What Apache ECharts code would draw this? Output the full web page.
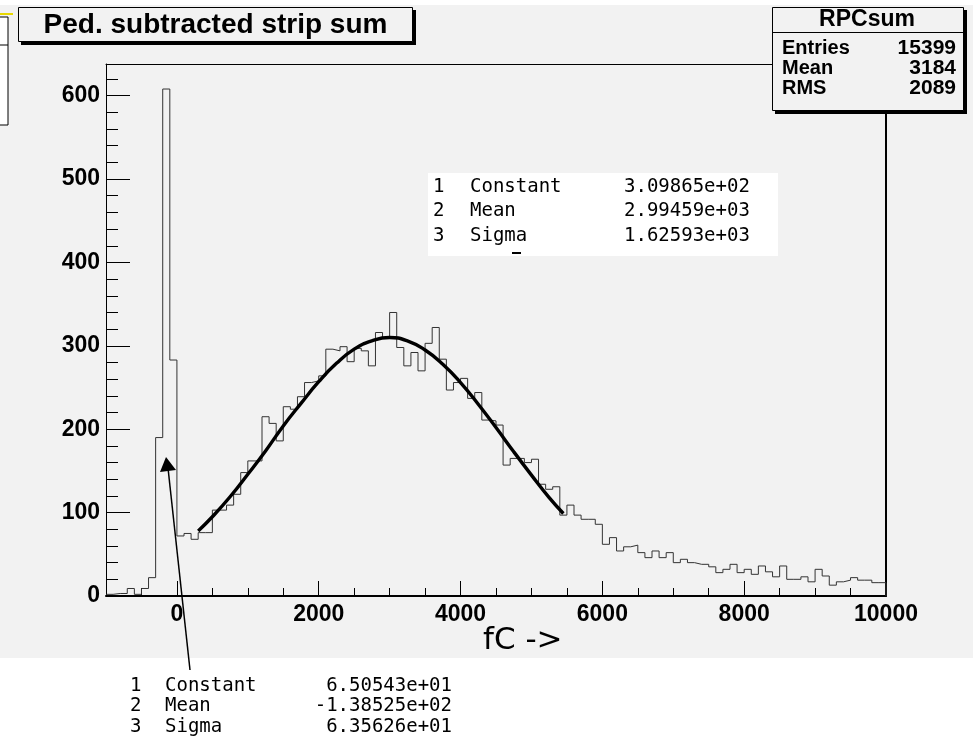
<!DOCTYPE html>
<html><head><meta charset="utf-8">
<script src="https://cdn.jsdelivr.net/npm/echarts@6/dist/echarts.min.js"></script>
<style>html,body{margin:0;padding:0;background:#fff}#c{width:973px;height:748px}</style>
</head><body><div id="c"></div>
<script>
// ---- data ----
const binStart = -1000;
const binWidth = 100;
const counts = [2,3,3,9,2,9,22,190,608,283,
  72,75,68,76,76,103,103,109,122,148,
  162,162,215,207,186,227,224,239,256,258,
  264,296,294,299,281,297,294,276,316,310,
  340,298,276,292,270,303,322,284,247,256,
  261,237,244,211,210,205,157,165,165,160,
  164,134,128,131,97,109,97,92,92,86,
  62,70,54,59,61,52,46,54,46,52,
  40,44,40,38,38,35,28,32,38,28,
  32,26,36,29,23,36,20,20,23,17,
  32,24,13,17,19,22,19,19,16,16];
const fitX = [300,500,750,1000,1250,1500,1750,2000,2250,2500,2750,3000,3250,3500,3750,4000,4250,4500,4750,5000,5250,5450];
const fitY = [78,95,119,146,174,204,231,257,279,296,306,310,306,295,278,256,230,202,173,145,118,99];
const xMajorTicks = [0,2000,4000,6000,8000,10000];
const xMinorTicks = [-1000,-500,0,500,1000,1500,2000,2500,3000,3500,4000,4500,5000,5500,6000,6500,7000,7500,8000,8500,9000,9500,10000];
const yMajorTicks = [0,100,200,300,400,500,600];
const yMinorTicks = [0,20,40,60,80,100,120,140,160,180,200,220,240,260,280,300,320,340,360,380,400,420,440,460,480,500,520,540,560,580,600,620];
const titleText = 'Ped. subtracted strip sum';
const statsTitle = 'RPCsum';
const statsNames = ['Entries','Mean','RMS'];
const statsValues = ['15399','3184','2089'];
const fit1Names = ['Constant','Mean','Sigma'];
const fit1Values = ['3.09865e+02','2.99459e+03','1.62593e+03'];
const fit2Names = ['Constant','Mean','Sigma'];
const fit2Values = ['6.50543e+01','-1.38525e+02','6.35626e+01'];
const xTitle = 'fC ->';

// ---- build ----
const histData = counts.map((v,i)=>[binStart+i*binWidth, v]);
histData.push([binStart+counts.length*binWidth, counts[counts.length-1]]);
histData.push([binStart+counts.length*binWidth, 0]);
const fitData = fitX.map((x,i)=>[x, fitY[i]]);

const BOLD = 'Liberation Sans, Arial, sans-serif';
const MONO = 'DejaVu Sans Mono, monospace';
const chart = echarts.init(document.getElementById('c'), null, {renderer:'canvas'});

const g = [];
// backgrounds
g.push({type:'rect', z:-100, shape:{x:0,y:5,width:973,height:653}, style:{fill:'#f2f2f2'}});
// top-left partial pave
g.push({type:'rect', z:50, shape:{x:-2,y:17,width:10,height:108}, style:{fill:'#ffffff', stroke:'#000', lineWidth:1}});
g.push({type:'line', z:51, shape:{x1:0,y1:45,x2:8,y2:45}, style:{stroke:'#000', lineWidth:1}});
g.push({type:'line', z:51, shape:{x1:0,y1:14,x2:13,y2:14}, style:{stroke:'#e8d800', lineWidth:2}});
// title pave
g.push({type:'rect', z:50, shape:{x:21,y:10,width:395,height:35}, style:{fill:'#000'}});
g.push({type:'rect', z:51, shape:{x:18.5,y:7.5,width:394,height:34}, style:{fill:'#f2f2f2', stroke:'#000', lineWidth:1}});
g.push({type:'text', z:52, x:215.5, y:25, style:{text:titleText, font:'bold 28px '+BOLD, fill:'#000', align:'center', verticalAlign:'middle'}});
// stats pave
g.push({type:'rect', z:50, shape:{x:775,y:10,width:192,height:104}, style:{fill:'#000'}});
g.push({type:'rect', z:51, shape:{x:772.5,y:7.5,width:191,height:103}, style:{fill:'#f2f2f2', stroke:'#000', lineWidth:1}});
g.push({type:'line', z:52, shape:{x1:772.5,y1:32.5,x2:963.5,y2:32.5}, style:{stroke:'#000', lineWidth:1}});
g.push({type:'text', z:52, x:867, y:20, style:{text:statsTitle, font:'bold 23px '+BOLD, fill:'#000', align:'center', verticalAlign:'middle'}});
statsNames.forEach((n,i)=>{
  g.push({type:'text', z:52, x:782, y:48+i*20, style:{text:n, font:'bold 20px '+BOLD, fill:'#000', align:'left', verticalAlign:'middle'}});
  g.push({type:'text', z:52, x:956, y:48+i*20, style:{text:statsValues[i], font:'bold 21px '+BOLD, fill:'#000', align:'right', verticalAlign:'middle'}});
});
// fit parameter box (main gaussian)
g.push({type:'rect', z:50, shape:{x:428,y:173,width:350,height:83}, style:{fill:'#ffffff'}});
fit1Names.forEach((n,i)=>{
  const y = 187+i*24.5;
  g.push({type:'text', z:52, x:433, y:y, style:{text:String(i+1), font:'19px '+MONO, fill:'#000', verticalAlign:'middle'}});
  g.push({type:'text', z:52, x:470, y:y, style:{text:n, font:'19px '+MONO, fill:'#000', verticalAlign:'middle'}});
  g.push({type:'text', z:52, x:624, y:y, style:{text:fit1Values[i], font:'19px '+MONO, fill:'#000', verticalAlign:'middle'}});
});
g.push({type:'rect', z:52, shape:{x:512,y:252,width:9,height:2}, style:{fill:'#000'}});
// fit parameter list (pedestal gaussian)
fit2Names.forEach((n,i)=>{
  const y = 686+i*20.5;
  g.push({type:'text', z:52, x:130, y:y, style:{text:String(i+1), font:'19px '+MONO, fill:'#000', verticalAlign:'middle'}});
  g.push({type:'text', z:52, x:165, y:y, style:{text:n, font:'19px '+MONO, fill:'#000', verticalAlign:'middle'}});
  g.push({type:'text', z:52, x:452, y:y, style:{text:fit2Values[i], font:'19px '+MONO, fill:'#000', align:'right', verticalAlign:'middle'}});
});
// arrow
g.push({type:'line', z:60, shape:{x1:190,y1:670,x2:168,y2:468}, style:{stroke:'#000', lineWidth:1.5}});
g.push({type:'polygon', z:60, shape:{points:[[166,457],[160,472],[176,470]]}, style:{fill:'#000'}});
// x title
g.push({type:'text', z:52, x:483, y:641, style:{text:xTitle, font:'31px DejaVu Sans, sans-serif', fill:'#000', verticalAlign:'middle'}});

const lbl = {fontFamily:BOLD, fontWeight:'bold', fontSize:23, color:'#000', formatter:(v)=>String(v)};
const option = {
  animation:false,
  grid:{left:106, top:64, width:780, height:532, containLabel:false},
  xAxis:[
    {type:'value', min:-1000, max:10000, position:'bottom',
     axisLine:{show:true, onZero:false, lineStyle:{color:'#000', width:2}},
     axisTick:{show:true, inside:true, length:15, customValues:xMajorTicks, lineStyle:{color:'#000', width:1}},
     axisLabel:{show:true, customValues:xMajorTicks, margin:7, ...lbl},
     splitLine:{show:false}},
    {type:'value', min:-1000, max:10000, position:'bottom',
     axisLine:{show:false, onZero:false},
     axisTick:{show:true, inside:true, length:8, customValues:xMinorTicks, lineStyle:{color:'#000', width:1}},
     axisLabel:{show:false}, splitLine:{show:false}},
    {type:'value', min:-1000, max:10000, position:'top',
     axisLine:{show:true, onZero:false, lineStyle:{color:'#000', width:1}},
     axisTick:{show:false}, axisLabel:{show:false}, splitLine:{show:false}}
  ],
  yAxis:[
    {type:'value', min:0, max:638, position:'left',
     axisLine:{show:true, onZero:false, lineStyle:{color:'#000', width:1}},
     axisTick:{show:true, inside:true, length:24, customValues:yMajorTicks, lineStyle:{color:'#000', width:1}},
     axisLabel:{show:true, customValues:yMajorTicks, margin:6, ...lbl},
     splitLine:{show:false}},
    {type:'value', min:0, max:638, position:'left',
     axisLine:{show:false, onZero:false},
     axisTick:{show:true, inside:true, length:12, customValues:yMinorTicks, lineStyle:{color:'#000', width:1}},
     axisLabel:{show:false}, splitLine:{show:false}},
    {type:'value', min:0, max:638, position:'right',
     axisLine:{show:true, onZero:false, lineStyle:{color:'#000', width:2}},
     axisTick:{show:false}, axisLabel:{show:false}, splitLine:{show:false}}
  ],
  series:[
    {type:'line', xAxisIndex:0, yAxisIndex:0, step:'end', data:histData, showSymbol:false, symbol:'none',
     lineStyle:{color:'#333', width:1}, z:3},
    {type:'line', xAxisIndex:0, yAxisIndex:0, smooth:true, data:fitData, showSymbol:false, symbol:'none',
     lineStyle:{color:'#000', width:3.4}, z:4}
  ],
  graphic:g
};
chart.setOption(option);
</script></body></html>
